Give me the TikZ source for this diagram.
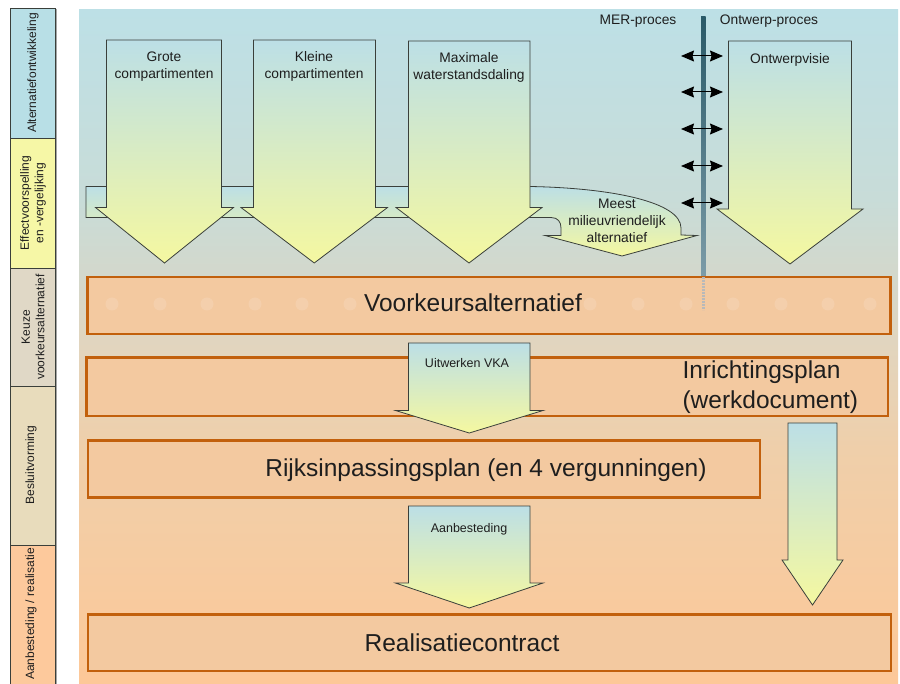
\documentclass[tikz,border=0pt]{standalone}
\usepackage{fontspec}
\setmainfont{Liberation Sans}
\usetikzlibrary{arrows.meta}
\definecolor{bgtop}{HTML}{BDE0E6}
\definecolor{bgc4}{HTML}{C8DCD8}
\definecolor{bgc3}{HTML}{D3D8CC}
\definecolor{bgc2}{HTML}{E2D5BE}
\definecolor{bgc1}{HTML}{EFCFAA}
\definecolor{bgbot}{HTML}{FDC898}
\definecolor{arblue}{HTML}{BCDFE6}
\definecolor{aryellow}{HTML}{F5F8A0}
\definecolor{arline}{HTML}{3A3F3A}
\definecolor{boxline}{HTML}{C2600C}
\definecolor{boxfill}{HTML}{F3C9A0}
\definecolor{txt}{HTML}{1E1E1E}
\definecolor{sblue}{HTML}{B8DFE6}
\definecolor{syellow}{HTML}{F6F7A6}
\definecolor{skeuze}{HTML}{E0D8C6}
\definecolor{sbesluit}{HTML}{E8DCBC}
\definecolor{saanb}{HTML}{FDC99C}
\definecolor{merdark}{HTML}{2A5A68}
\definecolor{merlight}{HTML}{7C9CA8}
\pgfdeclareverticalshading{bgshade}{100bp}{color(0bp)=(bgbot); color(25bp)=(bgbot); color(42.5bp)=(bgc1); color(50bp)=(bgc2); color(55.5bp)=(bgc3); color(61bp)=(bgc4); color(75bp)=(bgtop); color(100bp)=(bgtop)}
\newcommand\blockarrow[7]{%
  \path[arrowshape] (#1,#3) -- (#2,#3) -- (#2,#4) -- (#6,#4) -- ({(#5+#6)/2},#7) -- (#5,#4) -- (#1,#4) -- cycle;}
\begin{document}
\begin{tikzpicture}[x=1pt,y=-1pt,
  arrowshape/.style={draw=arline, line width=0.8pt, top color=arblue, bottom color=aryellow},
  planbox/.style={draw=boxline, line width=2.4pt, fill=boxfill},
  sidecell/.style={draw=arline, line width=0.8pt},
  bigtext/.style={font=\fontsize{24.5}{30}\selectfont, text=txt},
  midtext/.style={font=\fontsize{13.8}{17}\selectfont, align=center, text=txt},
  smalltext/.style={font=\fontsize{12.5}{14}\selectfont, text=txt},
  sidetext/.style={font=\fontsize{12}{14.5}\selectfont, rotate=90, align=center, text=txt},
  dbl/.style={{Stealth[length=13pt,width=11pt,inset=1.5pt]}-{Stealth[length=13pt,width=11pt,inset=1.5pt]}, line width=1pt, draw=black}]
\useasboundingbox (0,0) rectangle (900,684);
\fill[white] (0,0) rectangle (900,684);
% background panel
\shade[shading=bgshade] (79,10) rectangle (898,684);
% sidebar
\fill[gray!70] (55,9) rectangle (57,684);
\path[sidecell, fill=sblue] (10,8) rectangle (55,138);
\path[sidecell, fill=syellow] (10,138) rectangle (55,268);
\path[sidecell, fill=skeuze] (10,268) rectangle (55,386);
\path[sidecell, fill=sbesluit] (10,386) rectangle (55,545);
\path[sidecell, fill=saanb] (10,545) rectangle (55,684);
\node[sidetext] (s1) at (33,73) {Alternatiefontwikkeling};
\node[sidetext] (s2) at (33,203) {Effectvoorspelling\\en -vergelijking};
\node[sidetext] (s3) at (33,327) {Keuze\\voorkeursalternatief};
\node[sidetext] (s4) at (31,465) {Besluitvorming};
\node[sidetext] (s5) at (31,614) {Aanbesteding / realisatie};
% bent band arrow (MMA)
\path[arrowshape] (86,186.5) -- (530,186.5) .. controls (612,188) and (681,202) .. (681,228) -- (681,235) -- (697,235.5) -- (622,256) -- (545,235.5) -- (561,235.5) -- (561,228) .. controls (561,222) and (558,217.5) .. (551,217.5) -- (86,217.5) -- cycle;
\node[midtext] (mma) at (617,221) {Meest\\milieuvriendelijk\\alternatief};
% main arrows
\blockarrow{106.5}{221.5}{40}{207.5}{95.5}{233.5}{263}
\blockarrow{253.5}{375.5}{40}{207.5}{241}{387.5}{263}
\blockarrow{408.5}{530}{41}{207.5}{396}{542}{263}
\blockarrow{728.5}{851.5}{41}{209}{717}{863}{264}
\node[midtext] (grote) at (164,66.5) {Grote\\compartimenten};
\node[midtext] (kleine) at (314,66.5) {Kleine\\compartimenten};
\node[midtext] (max) at (469,67.5) {Maximale\\waterstandsdaling};
\node[midtext] (ontw) at (790,60) {Ontwerpvisie};
% MER line
\shade[top color=merdark, bottom color=merlight] (701,17) rectangle (705.5,277);
\node[midtext] (mer) at (638,21) {MER-proces};
\node[midtext] (ontwp) at (769,21) {Ontwerp-proces};
\foreach \i/\yy in {1/56,2/92,3/129,4/166,5/203}{
  \coordinate (dl\i) at (681,\yy);
  \coordinate (dr\i) at (723,\yy);
  \draw[dbl] (dl\i) -- (dr\i);
}
% Voorkeursalternatief
\path[planbox] (87.5,277) rectangle (890.5,334);
\foreach \xx in {112,160,207,255,302,350,398,445,590,638,686,733,781,828,870}{
  \fill[white, opacity=0.13] (\xx,304) circle (6.5);
}
\node[bigtext] (vka) at (473,303) {Voorkeursalternatief};
\draw[color=gray!55, line width=2.6pt, dash pattern=on 1.6pt off 1.4pt] (703.2,277) -- (703.2,310);
% Inrichtingsplan
\path[planbox] (86.5,357.5) rectangle (888,416);
\node[bigtext, anchor=west, align=left] (inr) at (679,387) {Inrichtingsplan\\(werkdocument)};
\blockarrow{408.5}{530}{343}{410.5}{395.5}{543}{433}
\node[smalltext] (uitw) at (467,363) {Uitwerken VKA};
% Rijksinpassingsplan
\path[planbox] (88,440.5) rectangle (760,497.5);
\node[bigtext] (rijks) at (486,470) {Rijksinpassingsplan (en 4 vergunningen)};
\blockarrow{408.5}{530}{506}{583}{395.5}{543}{608}
\node[smalltext] (aanb) at (469,529) {Aanbesteding};
\blockarrow{788}{837}{423}{560}{782}{843}{605}
% Realisatiecontract
\path[planbox] (88,614.5) rectangle (891,671);
\node[bigtext] (real) at (462,643) {Realisatiecontract};
\end{tikzpicture}
\end{document}
